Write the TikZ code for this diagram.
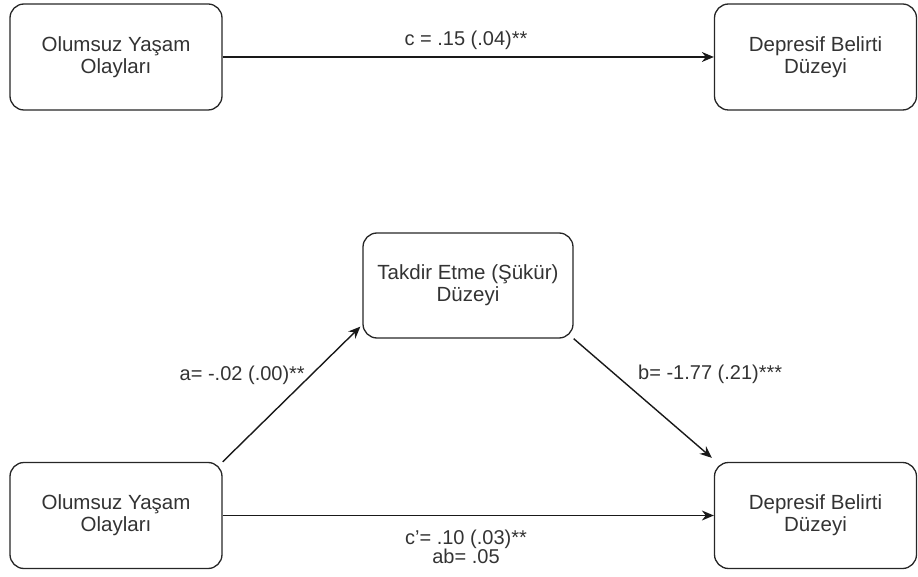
\documentclass[tikz,border=0pt]{standalone}
\usepackage{fontspec}
\setmainfont{Liberation Sans}
\usetikzlibrary{arrows.meta}
\begin{document}
\begin{tikzpicture}[x=1pt,y=-1pt,
  box/.style={draw=black!85, line width=1.3pt, rounded corners=14pt,
    minimum width=212pt, minimum height=106pt, align=center, inner sep=0pt,
    font=\fontsize{20.5}{22}\selectfont, text=black!80},
  conn/.style={draw=black!90, line width=1.4pt, -{Stealth[length=12pt,width=10pt]}},
  lbl/.style={font=\fontsize{20}{19}\selectfont, text=black!80, inner sep=0pt, align=center}]
\useasboundingbox (0,0) rectangle (918,577);
\node[box] (tl) at (116,57) {Olumsuz Yaşam\\Olayları};
\node[box, minimum width=202pt] (tr) at (815.5,57) {Depresif Belirti\\Düzeyi};
\node[box, minimum width=210pt, minimum height=105pt] (mid) at (468,285.5) {Takdir Etme (Şükür)\\Düzeyi};
\node[box] (bl) at (116,515.5) {Olumsuz Yaşam\\Olayları};
\node[box, minimum width=202pt] (br) at (815.5,515.5) {Depresif Belirti\\Düzeyi};
\draw[conn] (tl) -- (tr);
\draw[conn] (bl.north east) -- ([xshift=-2pt,yshift=12pt]mid.south west);
\draw[conn] (mid.south east) -- ([xshift=-2pt,yshift=4pt]br.north west);
\draw[conn] (bl) -- (br);
\node[lbl] (clbl) at (466,40) {c = .15 (.04)**};
\node[lbl, anchor=east] (albl) at (305,375) {a= -.02 (.00)**};
\node[lbl, anchor=west] (blbl) at (638,374) {b= -1.77 (.21)***};
\node[lbl] (cplbl) at (466,547) {c'= .10 (.03)**\\ab= .05};
\end{tikzpicture}
\end{document}
